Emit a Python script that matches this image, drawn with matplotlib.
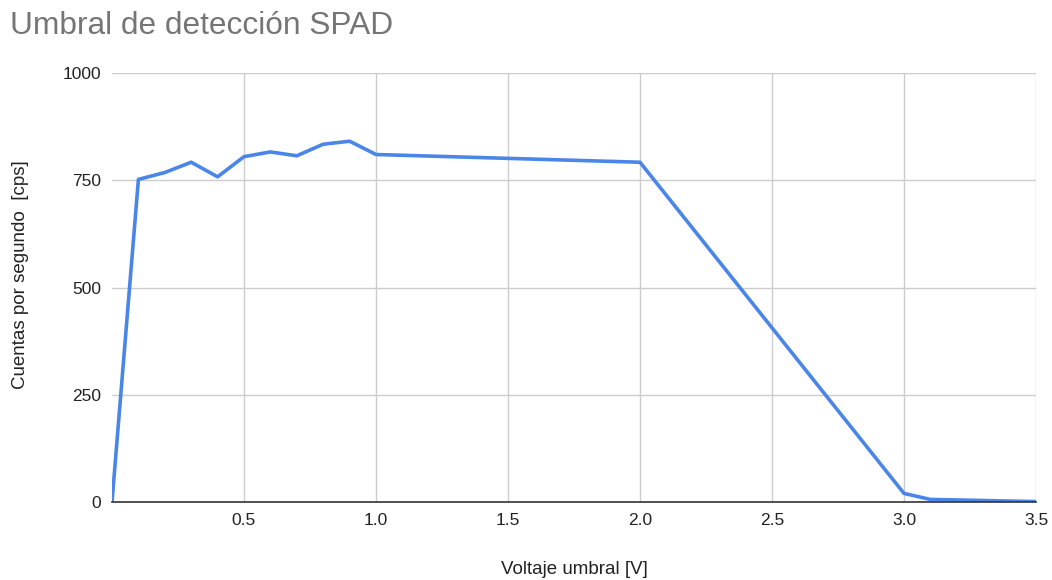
import matplotlib.pyplot as plt

plt.rcParams['font.family'] = ['Liberation Sans', 'DejaVu Sans']

# Voltaje umbral [V] y cuentas medidas [cps]
voltaje = [0.0, 0.1, 0.2, 0.3, 0.4, 0.5, 0.6, 0.7, 0.8, 0.9, 1.0, 2.0, 3.0, 3.1, 3.5]
cuentas = [0, 752, 768, 792, 758, 805, 816, 807, 834, 841, 810, 792, 20, 6, 1]

x_ticks = [0.5, 1.0, 1.5, 2.0, 2.5, 3.0, 3.5]
y_ticks = [0, 250, 500, 750, 1000]

fig = plt.figure(figsize=(10.52, 5.8), dpi=100)
ax = fig.add_axes([112 / 1052, 78 / 580, 924 / 1052, 429 / 580])

ax.plot(voltaje, cuentas, color='#4a86e8', linewidth=2.6, solid_joinstyle='round', zorder=3)

ax.set_xlim(0, 3.5)
ax.set_ylim(0, 1000)
ax.set_xticks(x_ticks)
ax.set_xticklabels([f'{v:.1f}' for v in x_ticks])
ax.set_yticks(y_ticks)

ax.grid(True, color='#cccccc', linewidth=1)
ax.tick_params(length=0, labelsize=12.5, colors='#222222', pad=8)
for s in ['top', 'right', 'left']:
    ax.spines[s].set_visible(False)
ax.spines['bottom'].set_color('#333333')
ax.spines['bottom'].set_linewidth(1.2)
ax.spines['bottom'].set_zorder(4)

# --- Etiquetas de los ejes --- #
ax.set_xlabel('Voltaje umbral [V]', fontsize=13.5, color='#222222', va='center')
ax.xaxis.set_label_coords(0.5, -0.158)
ax.set_ylabel('Cuentas por segundo  [cps]', fontsize=13.5, color='#222222', va='center')
ax.yaxis.set_label_coords(-0.099, 0.53)

fig.text(10 / 1052, 1 - 26 / 580, 'Umbral de detección SPAD', fontsize=22.8,
         color='#757575', va='center', ha='left')

fig.savefig('out.png', dpi=100, facecolor='white')
